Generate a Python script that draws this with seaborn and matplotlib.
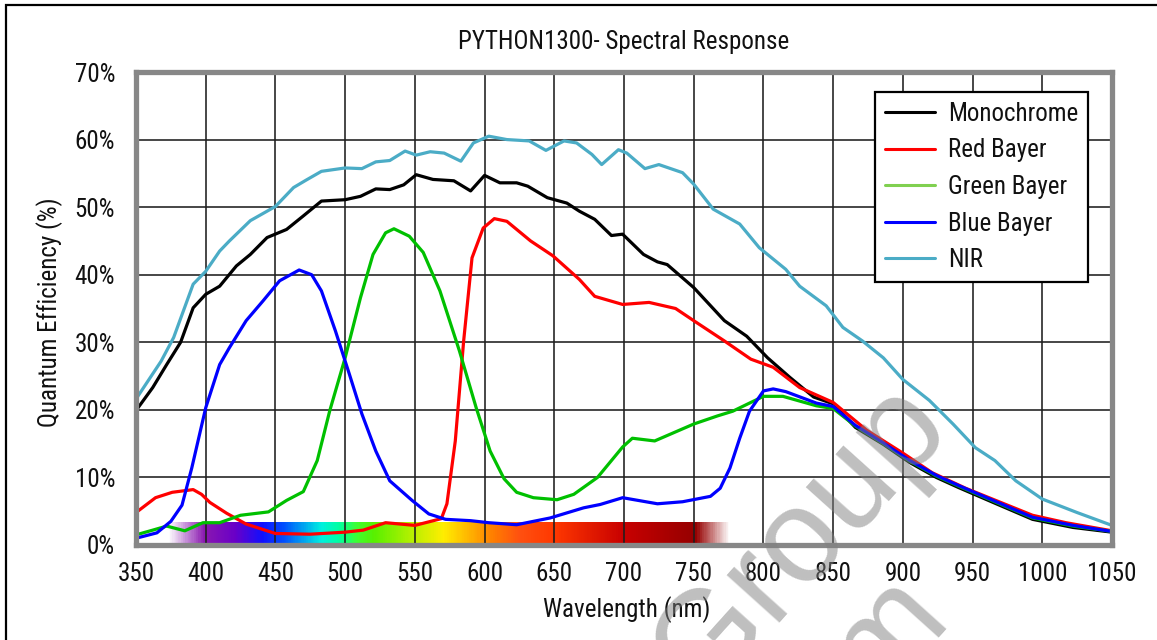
import numpy as np
import pandas as pd
import matplotlib
matplotlib.use("Agg")
import matplotlib.pyplot as plt
import seaborn as sns
from matplotlib.colors import LinearSegmentedColormap
from matplotlib.lines import Line2D
from matplotlib.patches import Rectangle
from matplotlib import font_manager

# ---------------- data ----------------
mono_wl = [350, 362, 372, 382, 391, 400, 410, 422, 432, 444, 458, 470, 483, 500, 511, 522, 532,
           542, 551, 563, 578, 590, 600, 611, 623, 631, 645, 659, 668, 679, 691, 699, 714, 724,
           731, 750, 772, 788, 803, 819, 836, 850, 866, 886, 905, 924, 940, 967, 993, 1022, 1050]
mono = [19.9, 23.3, 26.7, 30.0, 35.1, 37.1, 38.3, 41.3, 43.0, 45.5, 46.7, 48.7, 50.9, 51.1, 51.6,
        52.7, 52.6, 53.3, 54.8, 54.1, 53.9, 52.4, 54.7, 53.6, 53.6, 53.1, 51.4, 50.6, 49.4, 48.2,
        45.8, 46.0, 43.0, 41.9, 41.5, 38.1, 33.2, 30.9, 27.7, 24.8, 21.9, 20.9, 17.4, 14.9, 12.2,
        10.0, 8.5, 6.1, 3.8, 2.6, 1.9]

red_wl = [350, 364, 376, 391, 397, 403, 415, 429, 450, 475, 500, 513, 529, 550, 569, 573, 579, 585,
          591, 599, 607, 616, 633, 649, 668, 679, 699, 718, 737, 750, 772, 791, 807, 826, 850, 874,
          900, 921, 945, 969, 993, 1017, 1050]
red = [4.8, 7.0, 7.8, 8.2, 7.5, 6.3, 4.7, 3.1, 1.7, 1.6, 1.9, 2.2, 3.3, 2.9, 3.9, 6.1, 15.4, 30.2,
       42.5, 46.9, 48.3, 47.9, 45.0, 42.8, 39.3, 36.8, 35.6, 35.9, 35.0, 33.2, 30.2, 27.5, 26.3,
       23.3, 21.1, 17.0, 13.6, 10.7, 8.4, 6.4, 4.4, 3.3, 2.1]

green_wl = [350, 362, 372, 385, 398, 410, 425, 445, 458, 470, 480, 489, 500, 511, 520, 529, 535,
            546, 556, 568, 582, 594, 604, 614, 623, 635, 652, 664, 681, 699, 706, 722, 750, 767,
            778, 790, 800, 814, 826, 838, 850, 866, 886, 905, 924, 940, 967, 993, 1022, 1050]
green = [1.5, 2.2, 2.8, 2.1, 3.3, 3.3, 4.4, 4.9, 6.6, 7.9, 12.5, 19.9, 27.7, 36.6, 43.0, 46.2,
         46.8, 45.7, 43.3, 37.6, 28.7, 20.3, 13.9, 9.8, 7.8, 7.0, 6.7, 7.5, 10.0, 14.5, 15.8, 15.4,
         17.9, 19.1, 19.8, 21.0, 22.0, 22.0, 21.3, 20.6, 20.2, 17.6, 15.0, 12.4, 10.2, 8.7, 6.3,
         4.0, 2.8, 2.0]

blue_wl = [350, 365, 375, 383, 390, 400, 410, 417, 429, 441, 453, 467, 476, 483, 493, 503, 512,
           522, 532, 548, 560, 572, 590, 603, 623, 647, 671, 683, 699, 724, 742, 762, 769, 776,
           783, 790, 800, 807, 816, 838, 850, 866, 886, 905, 924, 940, 967, 993, 1022, 1050]
blue = [1.0, 1.8, 3.5, 5.9, 11.4, 20.3, 26.7, 29.2, 33.2, 36.1, 39.1, 40.7, 40.0, 37.6, 31.7,
        25.3, 19.4, 13.9, 9.5, 6.6, 4.6, 3.8, 3.6, 3.3, 3.0, 4.0, 5.5, 6.0, 7.0, 6.1, 6.4, 7.2,
        8.4, 11.4, 15.8, 19.8, 22.8, 23.1, 22.7, 21.0, 20.5, 17.7, 15.1, 12.5, 10.3, 8.8, 6.4,
        4.1, 2.9, 2.0]

nir_wl = [350, 368, 377, 391, 400, 410, 417, 432, 450, 463, 472, 483, 500, 512, 522, 532, 543, 551,
          561, 571, 583, 592, 603, 616, 632, 644, 657, 666, 677, 684, 696, 702, 715, 725, 742, 750,
          764, 783, 797, 816, 826, 845, 857, 871, 886, 900, 919, 936, 952, 966, 981, 1000, 1025,
          1050]
nir = [21.6, 27.2, 30.7, 38.6, 40.5, 43.5, 45.0, 48.0, 50.1, 52.9, 54.0, 55.3, 55.8, 55.7, 56.7,
       56.9, 58.3, 57.7, 58.2, 58.0, 56.8, 59.5, 60.5, 60.0, 59.8, 58.4, 59.8, 59.5, 57.8, 56.3,
       58.5, 58.0, 55.7, 56.3, 55.1, 53.4, 49.7, 47.5, 44.0, 40.8, 38.3, 35.4, 32.2, 30.2, 27.7,
       24.5, 21.4, 17.9, 14.4, 12.5, 9.5, 6.8, 4.8, 2.9]

series_names = ["Monochrome", "Red Bayer", "Green Bayer", "Blue Bayer", "NIR"]
line_colors = ["#000000", "#ff0000", "#00c000", "#0000ff", "#4bacc6"]
legend_colors = ["#000000", "#ff0000", "#80d050", "#0000ff", "#4bacc6"]

x_ticks = [350, 400, 450, 500, 550, 600, 650, 700, 750, 800, 850, 900, 950, 1000, 1050]
y_ticks = [0, 10, 20, 30, 40, 50, 60, 70]
y_tick_labels = [f"{v}%" for v in y_ticks]

title = "PYTHON1300- Spectral Response"
x_label = "Wavelength (nm)"
y_label = "Quantum Efficiency (%)"

# visible-spectrum colour bar (stops in nm)
spec_stops_nm = [372, 398, 420, 440, 455, 470, 482, 495, 508, 520, 550, 570, 590, 605, 625, 650,
                 700, 740, 752, 776]
spec_stops_col = ["#ffffff", "#8a18b0", "#6a00c8", "#1010ff", "#0050ff", "#00a8f0", "#00f0e0",
                  "#00ffa0", "#40ff30", "#58f000", "#c0f000", "#ffee00", "#ffb000", "#ff8000",
                  "#ff5010", "#ff3800", "#c80000", "#a00000", "#950000", "#ffffff"]

# ---------------- style ----------------
sns.set_theme(style="white")
avail = {f.name for f in font_manager.fontManager.ttflist}
main_font = next((f for f in ["Roboto Condensed", "Archivo Narrow", "PT Sans Narrow",
                              "Liberation Sans"] if f in avail), "DejaVu Sans")
plt.rcParams["font.family"] = [main_font, "DejaVu Sans"]
plt.rcParams["text.color"] = "#111111"

W, H = 1157, 640
fig = plt.figure(figsize=(W / 100, H / 100), dpi=100)
ax_l, ax_r, ax_t, ax_b = 136, 1112, 72, 545
ax = fig.add_axes([ax_l / W, 1 - ax_b / H, (ax_r - ax_l) / W, (ax_b - ax_t) / H])

frames = []
for name, wl, vals in zip(series_names, [mono_wl, red_wl, green_wl, blue_wl, nir_wl],
                          [mono, red, green, blue, nir]):
    frames.append(pd.DataFrame({"wl": wl, "qe": vals, "series": name}))
df = pd.concat(frames, ignore_index=True)

# spectrum bar
pos = [(v - spec_stops_nm[0]) / (spec_stops_nm[-1] - spec_stops_nm[0]) for v in spec_stops_nm]
cmap = LinearSegmentedColormap.from_list("spec", list(zip(pos, spec_stops_col)))
grad = cmap(np.linspace(0, 1, 600))[None, :, :]
ax.imshow(grad, extent=[spec_stops_nm[0], spec_stops_nm[-1], 0, 3.3], aspect="auto",
          interpolation="bilinear", zorder=0.2)

sns.lineplot(data=df, x="wl", y="qe", hue="series", hue_order=series_names,
             palette=dict(zip(series_names, line_colors)), estimator=None, sort=False,
             linewidth=2.3, legend=False, ax=ax, zorder=3)

ax.set_xlim(350, 1050)
ax.set_ylim(0, 70)
ax.set_xticks(x_ticks)
ax.set_xticklabels([str(t) for t in x_ticks])
ax.set_yticks(y_ticks)
ax.set_yticklabels(y_tick_labels)
ax.tick_params(axis="both", length=0, labelsize=18, colors="#111111")
ax.tick_params(axis="y", pad=15)
ax.tick_params(axis="x", pad=12)
ax.grid(True, color="#1e1e1e", linewidth=1.15)
ax.set_axisbelow(True)
for sp in ax.spines.values():
    sp.set_visible(True)
    sp.set_color("#878787")
    sp.set_linewidth(3.8)
    sp.set_zorder(5)
ax.set_xlabel("")
ax.set_ylabel("")

fig.text(624 / W, 1 - 42 / H, title, ha="center", va="center", fontsize=18)
fig.text(627 / W, 1 - 610 / H, x_label, ha="center", va="center", fontsize=18)
fig.text(50 / W, 1 - 312 / H, y_label, ha="center", va="center", rotation=90, fontsize=18)

handles = [Line2D([0], [0], color=c, lw=2.2) for c in legend_colors]
leg = ax.legend(handles, series_names, loc="upper right",
                bbox_to_anchor=(1088 / W, 1 - 92 / H), bbox_transform=fig.transFigure,
                borderaxespad=0, fontsize=18, frameon=True, fancybox=False, framealpha=1,
                edgecolor="#000000", handlelength=2.0, handletextpad=0.5, labelspacing=0.5,
                borderpad=0.4)
leg.get_frame().set_linewidth(1.6)
leg.set_zorder(6)

# outer frame of the picture (cut at the right and bottom)
fig.patches.append(Rectangle((6 / W, -0.5), 2.0, (1 - 5 / H) + 0.5, transform=fig.transFigure,
                             fill=False, edgecolor="#000000", linewidth=1.6, zorder=10))

# watermark
wm_font = ["Liberation Sans", "DejaVu Sans"]
fig.text(953 / W, 1 - 431 / H, "s Group", rotation=48, rotation_mode="anchor", ha="right",
         va="baseline", fontsize=96, color="#808080", alpha=0.5, zorder=20, family=wm_font)
fig.text(950 / W, 1 - 612 / H, ".com", rotation=48, rotation_mode="anchor", ha="right",
         va="baseline", fontsize=96, color="#808080", alpha=0.5, zorder=20, family=wm_font)

fig.savefig("out.png", dpi=100)
